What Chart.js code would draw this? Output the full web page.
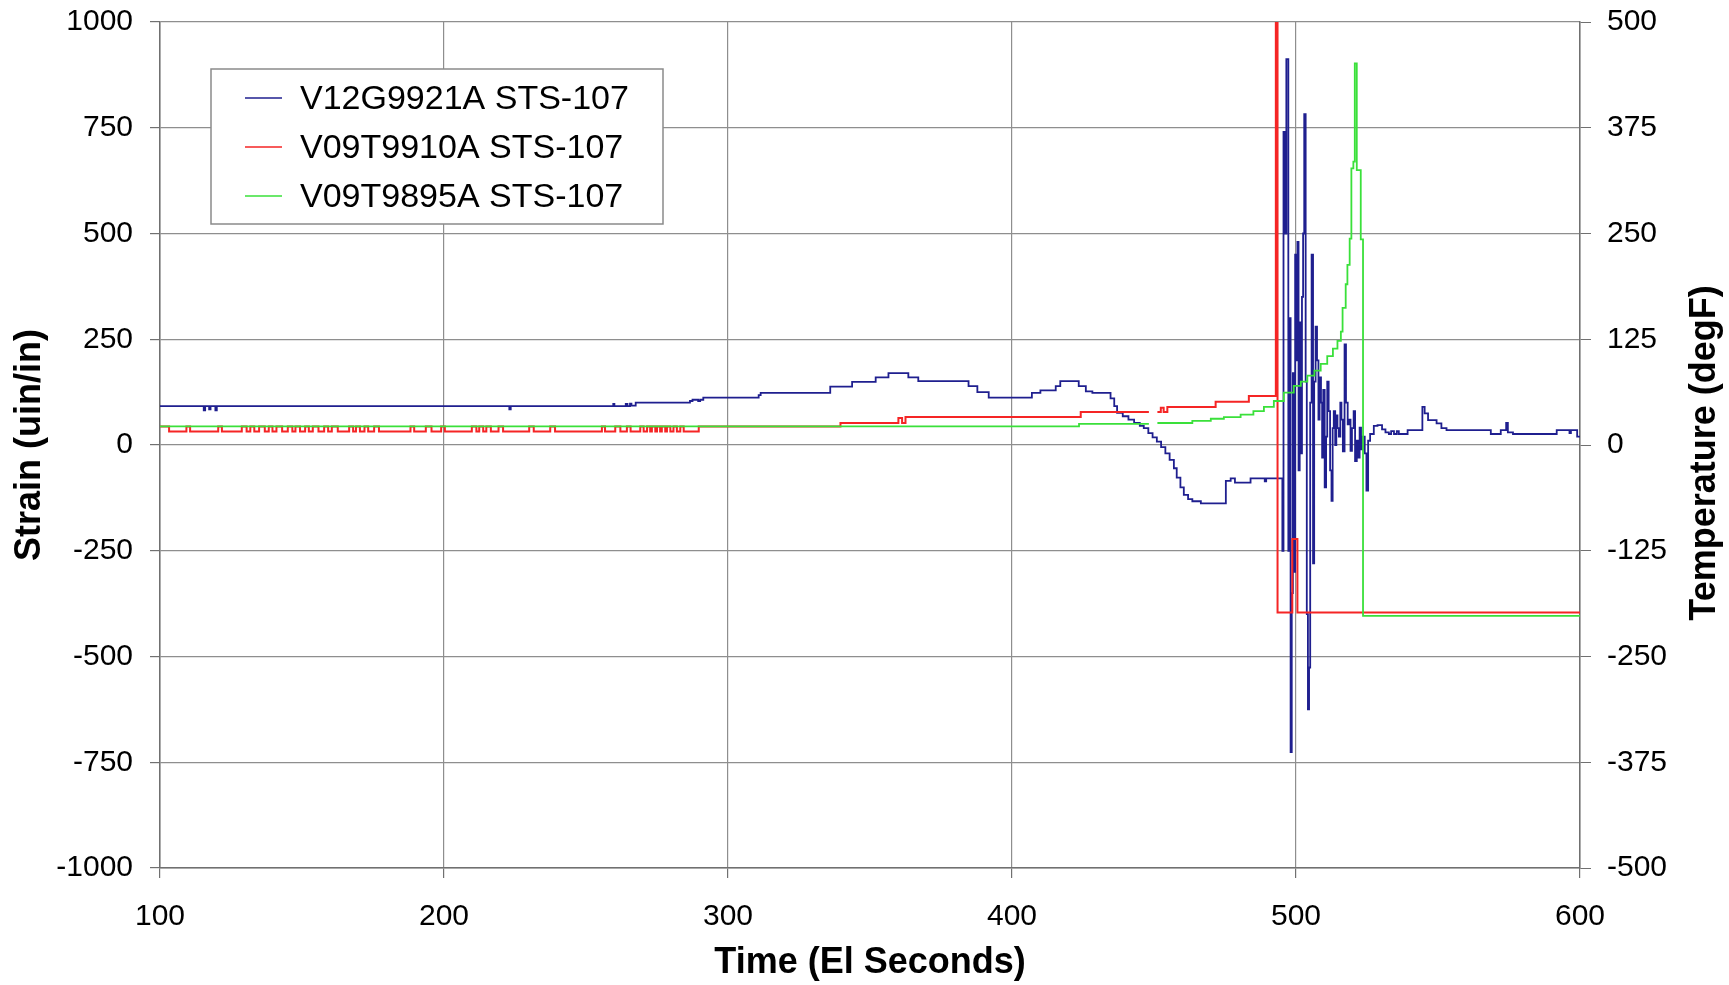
<!DOCTYPE html>
<html>
<head>
<meta charset="utf-8">
<script src="https://cdn.jsdelivr.net/npm/chart.js@4.4.1/dist/chart.umd.min.js"></script>
<style>
  html, body { margin: 0; padding: 0; background: #fff; }
  #wrap { width: 1729px; height: 985px; }
</style>
</head>
<body>
<div id="wrap"><canvas id="canva" width="1729" height="985"></canvas></div>
<script>
const seriesNames = ["V12G9921A STS-107", "V09T9910A STS-107", "V09T9895A STS-107"];
const timeTicks = [100, 200, 300, 400, 500, 600];
const strainTicks = [-1000, -750, -500, -250, 0, 250, 500, 750, 1000];
const tempTicks = [-500, -375, -250, -125, 0, 125, 250, 375, 500];

// strain gauge (left axis, uin/in)
const blueTime = [
  100, 115.4, 115.9, 117.3, 117.8, 119.5, 120, 223, 223.5, 259.6,
  260, 264, 264.6, 265.5, 266, 267.5, 286.6, 287.5, 289.5, 290.2,
  291.3, 310.8, 311.5, 336, 343.7, 352, 356.5, 363.5, 367, 384.7,
  387.8, 391.8, 407, 410, 415.4, 417, 423.5, 426, 428.3,
  434.7, 436, 437, 439, 441, 443, 445, 446.4, 448, 449.5,
  451, 452.5, 454, 455.5, 457, 458, 459.3, 460.5, 462, 463.5,
  466.5, 475.3, 477, 478.5, 484, 489, 489.5,
  495.2, 495.6, 496.1, 496.6, 497.3, 497.7, 498.1, 498.5, 498.9, 499.3,
  499.7, 500.1, 500.5, 500.9, 501.3, 501.7, 502.1, 502.5, 502.9, 503.4,
  503.8, 504.2, 504.6, 505.0, 505.5, 506.0, 506.4, 506.9, 507.4, 507.9,
  508.3, 508.8, 509.2, 509.6, 510.1, 510.6, 511.0, 511.5, 512.0, 512.5,
  512.9, 513.3, 513.8, 514.2, 514.6, 515.1, 515.6, 516.0, 516.5, 517.1,
  517.6, 518.2, 518.7, 519.2, 519.7, 520.3, 520.8, 521.4, 521.8, 522.4,
  522.9, 523.5, 524.2, 524.8, 525.4, 526.1,
  527.4, 528.7, 530.3, 531.5, 532.7, 533.5, 534.5, 535.5, 536.2, 539.3,
  544.5, 545.3, 546.5, 549.5, 551.2, 553, 568.6, 572.1, 574, 574.6,
  576.4, 591.8, 596.3, 596.8, 599, 600
];
const blueStrain = [
  92, 82, 92, 84, 92, 82, 92, 84, 92, 97,
  92, 97, 92, 98, 93, 100, 104, 107, 104, 107,
  112, 118, 123, 138, 149, 160, 170, 160, 151, 139,
  125, 112, 123, 129, 139, 151, 139, 127, 123,
  110, 92, 76, 68, 60, 52, 45, 40, 28, 18,
  8, -5, -20, -35, -55, -77, -100, -118, -128, -133,
  -138, -85, -79, -89, -79, -86, -79,
  -250, 740, 500, 912, -250, 300, -726, -350, 170, -300,
  450, 200, 480, -60, 290, -20, 350, 500, 782, 150,
  -400, -625, -526, 100, 450, -280, 150, 280, 200, 60,
  160, 100, -30, 130, -100, 20, 150, 80, -60, -132,
  40, 80, 0, 70, 40, 20, 100, 60, -15, 238,
  100, 49, 60, -14, 40, 80, -38, 10, -30, 41,
  -10, 20, -20, -108, 10, 26,
  45, 47, 37, 30, 26, 33, 26, 33, 26, 35,
  90, 75, 59, 51, 40, 35, 26, 35, 52, 30,
  26, 35, 28, 35, 20, 20
];

// thermocouples (right axis, degF)
const redTime = [
  100, 103.2, 109.3, 110.6, 120.5, 121.8, 128.8, 130.5, 131.8, 133.2,
  134.9, 136.9, 138.3, 139.6, 141, 143, 145, 146.6, 147.7, 149.3,
  151.1, 152.4, 153.8, 155.8, 157.8, 159.2, 160.5, 162.6, 166.6, 168,
  169, 170.4, 172, 173.3, 175.4, 177.1, 188.2, 189.5, 193.6, 195.6,
  199, 200.3, 209.8, 211.4, 212.4, 213.8, 214.9, 216.5, 219.2, 220.8,
  230, 231.6, 237.4, 239.1, 255.6, 256.7, 260.3, 262.1, 264.4, 265.7,
  269.1, 270.3, 271.5, 272.6, 273.2, 274.4, 275, 276.1, 276.7, 277.9,
  278.5, 279.7, 280.8, 282, 283.2, 284.4,
  289.7, 339.6, 360, 361.3, 362.5, 424.2, 448.2, 448.3, 451.2, 452.4,
  453.4, 454.7, 471.7, 483.4, 492.9, 493.5, 498.7, 500.5, 600
];
const redTemp = [
  22, 16, 22, 16, 22, 16, 22, 16, 22, 16,
  22, 16, 22, 16, 22, 16, 22, 16, 22, 16,
  22, 16, 22, 16, 22, 16, 22, 16, 22, 16,
  22, 16, 22, 16, 22, 16, 22, 16, 22, 16,
  22, 16, 22, 16, 22, 16, 22, 16, 22, 16,
  22, 16, 22, 16, 22, 16, 22, 16, 22, 16,
  22, 16, 22, 16, 22, 16, 22, 16, 22, 16,
  22, 16, 22, 16, 22, 16,
  22, 26, 32, 26, 33, 39, 39, null, 39, 44,
  39, 45, 51, 58, 600, -198, -111, -198, -198
];
const greenTime = [
  100, 423.6, 448.2, 448.3, 451.2, 463.5, 470, 474.6, 480.5, 485,
  488.7, 492.2, 495.7, 499.2, 501.7, 504, 506.5, 508.7, 511, 513,
  514.6, 515.8, 516.4, 517.5, 518.1, 518.9, 519.5, 520.2, 520.7, 521.4,
  522.8, 523.6, 600
];
const greenTemp = [
  22, 25, 25, null, 26, 28.5, 31, 33, 36, 40,
  45, 52, 62, 70, 75, 82, 88, 96, 105, 114,
  123, 134, 162, 190, 213, 244, 327, 335, 451, 325,
  243, -202, -202
];

const pts = (xs, ys) => xs.map((x, i) => ({ x: x, y: ys[i] }));
const setTicks = (vals) => (s) => { s.ticks = vals.map((v) => ({ value: v })); };

Chart.defaults.font.family = '"Liberation Sans", Arial, sans-serif';
Chart.defaults.color = "#000";

const gridColor = "#8e8e8e";
const axisColor = "#707070";

// legend box drawn inside the plot area
const boxLegend = {
  id: "boxLegend",
  afterDatasetsDraw(chart) {
    const c = chart.ctx;
    const left = 211, top = 69, w = 452, h = 155;
    const rows = [99, 148, 197];
    c.save();
    c.fillStyle = "#fff";
    c.fillRect(left, top, w, h);
    c.strokeStyle = "#8a8a8a";
    c.lineWidth = 1.5;
    c.strokeRect(left, top, w, h);
    c.font = '34px "Liberation Sans", Arial, sans-serif';
    c.textBaseline = "middle";
    c.textAlign = "left";
    chart.data.datasets.forEach((ds, i) => {
      c.strokeStyle = ds.borderColor;
      c.lineWidth = 1.5;
      c.beginPath();
      c.moveTo(245, rows[i] - 1);
      c.lineTo(282, rows[i] - 1);
      c.stroke();
      c.fillStyle = "#000";
      c.fillText(ds.label, 300, rows[i] + 1);
    });
    c.restore();
  },
};

// right axis title reads bottom-to-top like the left one
const rightTitle = {
  id: "rightTitle",
  afterDraw(chart) {
    const c = chart.ctx;
    const a = chart.chartArea;
    c.save();
    c.translate(chart.width - 24, (a.top + a.bottom) / 2 + 8);
    c.rotate(-Math.PI / 2);
    c.font = 'bold 36px "Liberation Sans", Arial, sans-serif';
    c.fillStyle = "#000";
    c.textAlign = "center";
    c.textBaseline = "middle";
    c.fillText("Temperature (degF)", 0, 0);
    c.restore();
  },
};

new Chart(document.getElementById("canva"), {
  type: "line",
  data: {
    datasets: [
      {
        label: seriesNames[0],
        data: pts(blueTime, blueStrain),
        yAxisID: "y",
        borderColor: "#1f1f8f",
        borderWidth: 1.8,
        stepped: true,
        pointRadius: 0,
        order: 3,
      },
      {
        label: seriesNames[1],
        data: pts(redTime, redTemp),
        yAxisID: "y1",
        borderColor: "#f52525",
        borderWidth: 2,
        stepped: true,
        pointRadius: 0,
        order: 2,
      },
      {
        label: seriesNames[2],
        data: pts(greenTime, greenTemp),
        yAxisID: "y1",
        borderColor: "#3ae03a",
        borderWidth: 1.8,
        stepped: true,
        pointRadius: 0,
        order: 1,
      },
    ],
  },
  options: {
    responsive: false,
    animation: false,
    events: [],
    layout: { padding: { top: 22, left: 0, right: 0, bottom: 0 } },
    scales: {
      x: {
        type: "linear",
        min: 100,
        max: 600,
        afterBuildTicks: setTicks(timeTicks),
        afterFit: (s) => { s.height = 117; s.paddingLeft = 0; s.paddingRight = 0; },
        grid: { color: gridColor, lineWidth: 1.2, tickLength: 10, tickColor: axisColor },
        border: { color: axisColor, width: 1.5 },
        ticks: { font: { size: 30 }, padding: 21, autoSkip: false, maxRotation: 0, callback: (v) => String(v) },
        title: { display: true, text: "Time (El Seconds)", font: { size: 36, weight: "bold" }, padding: { top: 0, bottom: 0 } },
      },
      y: {
        position: "left",
        min: -1000,
        max: 1000,
        afterBuildTicks: setTicks(strainTicks),
        afterFit: (s) => { s.width = 160; s.paddingTop = 0; s.paddingBottom = 0; },
        grid: { color: gridColor, lineWidth: 1.2, tickLength: 10, tickColor: axisColor },
        border: { color: axisColor, width: 1.5 },
        ticks: { font: { size: 30 }, padding: 17, autoSkip: false, callback: (v) => String(v) },
        title: { display: true, text: "Strain (uin/in)", font: { size: 36, weight: "bold" }, padding: { top: 8, bottom: 0 } },
      },
      y1: {
        position: "right",
        min: -500,
        max: 500,
        afterBuildTicks: setTicks(tempTicks),
        afterFit: (s) => { s.width = 149; s.paddingTop = 0; s.paddingBottom = 0; },
        grid: { drawOnChartArea: false, tickLength: 11, tickColor: axisColor },
        border: { color: axisColor, width: 1.5 },
        ticks: { font: { size: 30 }, padding: 16, autoSkip: false, callback: (v) => String(v) },
      },
    },
    plugins: {
      legend: { display: false },
      tooltip: { enabled: false },
    },
  },
  plugins: [boxLegend, rightTitle],
});
</script>
</body>
</html>
